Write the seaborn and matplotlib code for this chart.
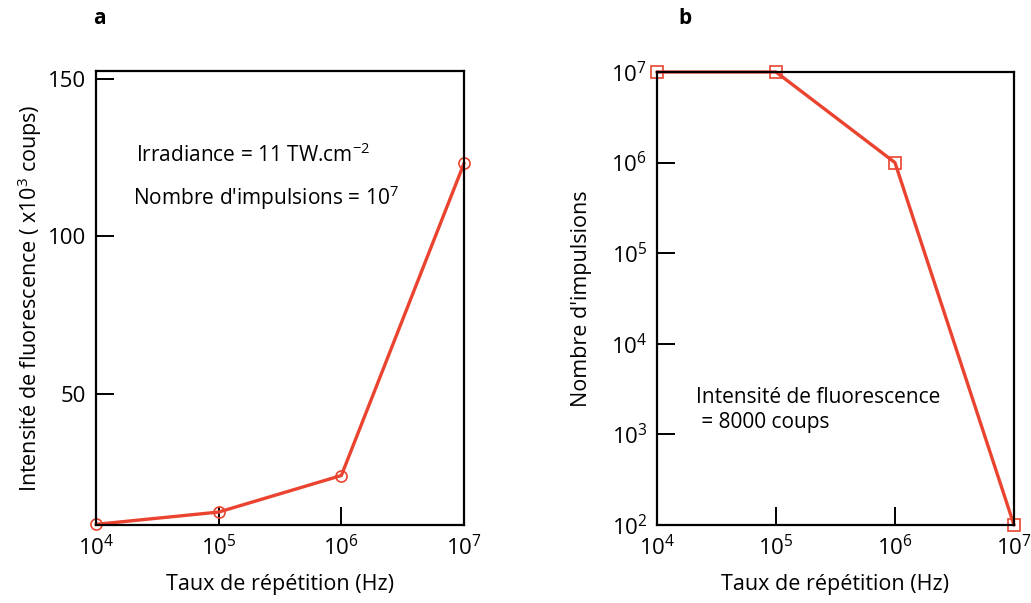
import matplotlib
matplotlib.use("Agg")
import matplotlib.pyplot as plt
import seaborn as sns
from matplotlib.ticker import LogLocator, NullLocator, FixedLocator

# data
rep_rate = [1e4, 1e5, 1e6, 1e7]
fluo_kcounts = [8.6, 12.5, 24.1, 123.2]
n_pulses = [1e7, 1e7, 1e6, 1e2]

red = "#ea4430"

sns.set_theme(style="white")
plt.rcParams["font.family"] = ["Open Sans", "DejaVu Sans"]
plt.rcParams["mathtext.default"] = "regular"
plt.rcParams["font.size"] = 15
plt.rcParams["text.color"] = "black"
plt.rcParams["axes.labelcolor"] = "black"
plt.rcParams["xtick.color"] = "black"
plt.rcParams["ytick.color"] = "black"

fig = plt.figure(figsize=(10.31, 6.03), dpi=100)
ax1 = fig.add_axes([0.0931, 0.1294, 0.357, 0.7529])
ax2 = fig.add_axes([0.6372, 0.1294, 0.3463, 0.7512])

sns.lineplot(x=rep_rate, y=fluo_kcounts, ax=ax1, color=red, linewidth=2.4,
             marker="o", markersize=8, markerfacecolor="none",
             markeredgecolor=red, markeredgewidth=1.2, clip_on=False)
sns.lineplot(x=rep_rate, y=n_pulses, ax=ax2, color=red, linewidth=2.4,
             marker="s", markersize=8, markerfacecolor="none",
             markeredgecolor=red, markeredgewidth=1.2, clip_on=False)

for ax in (ax1, ax2):
    ax.set_xscale("log")
    ax.set_xlim(1e4, 1e7)
    ax.xaxis.set_major_locator(LogLocator(base=10, numticks=10))
    ax.xaxis.set_minor_locator(NullLocator())
    for s in ax.spines.values():
        s.set_color("black")
        s.set_linewidth(1.6)
    ax.tick_params(axis="both", which="major", direction="in", length=13,
                   width=1.4, color="black", labelcolor="black", labelsize=16,
                   pad=7, top=False, right=False, bottom=True, left=True)
    ax.set_xlabel("Taux de répétition (Hz)", fontsize=15.5, labelpad=10)

ax1.set_ylim(8.4, 152.5)
ax1.yaxis.set_major_locator(FixedLocator([50, 100, 150]))
ax1.set_ylabel("Intensité de fluorescence ( x10$^3$ coups)", fontsize=15.5, labelpad=3)
ax1.text(0.11, 0.80, "Irradiance = 11 TW.cm$^{-2}$", transform=ax1.transAxes, fontsize=15)
ax1.text(0.10, 0.705, "Nombre d'impulsions = 10$^7$", transform=ax1.transAxes, fontsize=15)

ax2.set_yscale("log")
ax2.set_ylim(1e2, 1e7)
ax2.yaxis.set_major_locator(LogLocator(base=10, numticks=10))
ax2.yaxis.set_minor_locator(NullLocator())
ax2.set_ylabel("Nombre d'impulsions", fontsize=15.5, labelpad=14)
ax2.text(0.11, 0.215, "Intensité de fluorescence\n = 8000 coups", transform=ax2.transAxes,
         fontsize=15, linespacing=1.25)

fig.text(93 / 1031, 1 - 18 / 603, "a", fontsize=15, fontweight="bold", va="center")
fig.text(678 / 1031, 1 - 18 / 603, "b", fontsize=15, fontweight="bold", va="center")

fig.savefig("out.png", dpi=100)
